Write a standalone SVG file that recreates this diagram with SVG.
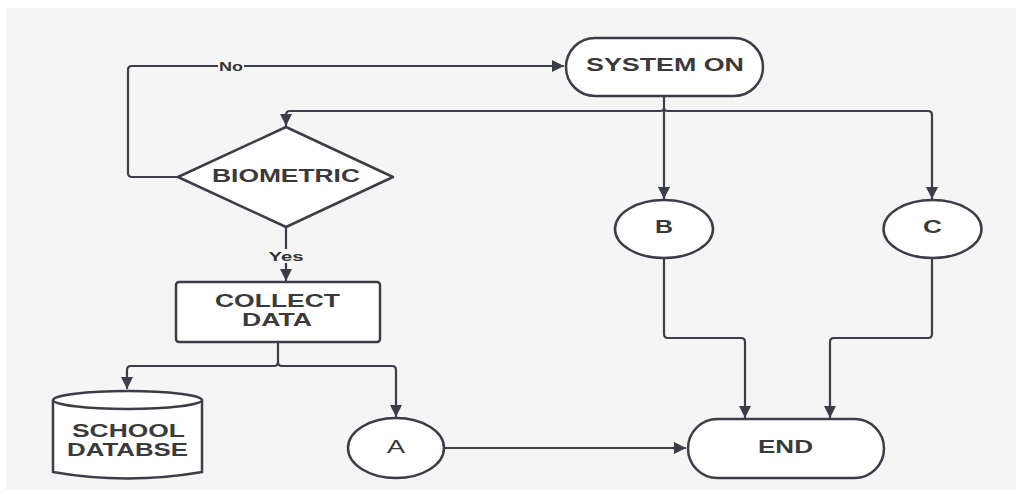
<svg xmlns="http://www.w3.org/2000/svg" width="1016" height="502" viewBox="0 0 1016 502">
  <defs>
    <marker id="arrow" viewBox="0 0 10 10" refX="10" refY="5" markerWidth="5.5" markerHeight="5.5" orient="auto" markerUnits="strokeWidth">
      <path d="M0,0 L10,5 L0,10 z" fill="#3b3e46"/>
    </marker>
    <style>
      .shape { fill: #ffffff; stroke: #3b3e46; stroke-width: 2.5; }
      .edge { fill: none; stroke: #3b3e46; stroke-width: 2.2; stroke-linejoin: round; }
      .label { font-family: "Liberation Sans", Arial, sans-serif; font-weight: bold; font-size: 18px; fill: #3a3a3a; text-anchor: middle; dominant-baseline: central; }
      .small { font-family: "Liberation Sans", Arial, sans-serif; font-weight: bold; font-size: 13px; fill: #333333; text-anchor: middle; dominant-baseline: central; }
    </style>
  </defs>

  <rect x="0" y="0" width="1016" height="502" fill="#ffffff"/>
  <rect x="6" y="8" width="1010" height="482" fill="#f5f5f5"/>

  <!-- connectors -->
  <g id="connectors">
    <!-- No branch: biometric back to system on -->
    <path class="edge" d="M178,177 H132 Q128,177 128,173 V70 Q128,66 132,66 H564" marker-end="url(#arrow)"/>
    <rect x="218" y="58" width="26" height="15" fill="#f5f5f5"/>
    <text class="small" x="231" y="66" textLength="24" lengthAdjust="spacingAndGlyphs">No</text>

    <!-- system on down to B -->
    <path class="edge" d="M664,96 V199" marker-end="url(#arrow)"/>
    <!-- system on to biometric (with hop over vertical) -->
    <path class="edge" d="M664,108 Q664,111 660,111 H290 Q286,111 286,115 V126" marker-end="url(#arrow)"/>
    <!-- system on to C -->
    <path class="edge" d="M664,108 Q664,111 668,111 H928 Q932,111 932,115 V199" marker-end="url(#arrow)"/>

    <!-- Yes branch -->
    <path class="edge" d="M286,228 V281" marker-end="url(#arrow)"/>
    <rect x="267" y="249" width="38" height="14" fill="#f5f5f5"/>
    <text class="small" x="286" y="256" textLength="35" lengthAdjust="spacingAndGlyphs">Yes</text>

    <!-- collect data to database and A -->
    <path class="edge" d="M278,342 V362 Q278,366 274,366 H131 Q127,366 127,370 V389" marker-end="url(#arrow)"/>
    <path class="edge" d="M278,362 Q278,366 282,366 H392 Q396,366 396,370 V417" marker-end="url(#arrow)"/>

    <!-- A to END -->
    <path class="edge" d="M444,448 H686" marker-end="url(#arrow)"/>

    <!-- B to END -->
    <path class="edge" d="M664,258 V334 Q664,338 668,338 H741 Q745,338 745,342 V418" marker-end="url(#arrow)"/>
    <!-- C to END -->
    <path class="edge" d="M932,258 V334 Q932,338 928,338 H834 Q830,338 830,342 V418" marker-end="url(#arrow)"/>
  </g>

  <g id="system-on">
    <rect class="shape" x="566" y="38" width="197" height="58" rx="29" ry="29"/>
    <text class="label" x="665" y="65" textLength="158" lengthAdjust="spacingAndGlyphs">SYSTEM ON</text>
  </g>

  <g id="biometric">
    <path class="shape" d="M286,127 L393,177 L286,227 L178,177 Z" stroke-linejoin="round"/>
    <text class="label" x="286" y="176" textLength="148" lengthAdjust="spacingAndGlyphs">BIOMETRIC</text>
  </g>

  <g id="collect-data">
    <rect class="shape" x="176" y="282" width="204" height="60" rx="3" ry="3"/>
    <text class="label" x="277.5" y="301" textLength="125" lengthAdjust="spacingAndGlyphs">COLLECT</text>
    <text class="label" x="277" y="320" textLength="70" lengthAdjust="spacingAndGlyphs">DATA</text>
  </g>

  <g id="school-database">
    <path class="shape" d="M53,400 V472 Q127,485 202,472 V400"/>
    <ellipse class="shape" cx="127.5" cy="400" rx="74.5" ry="9"/>
    <text class="label" x="128.5" y="431" textLength="113" lengthAdjust="spacingAndGlyphs">SCHOOL</text>
    <text class="label" x="127.5" y="450" textLength="121" lengthAdjust="spacingAndGlyphs">DATABSE</text>
  </g>

  <g id="node-a">
    <ellipse class="shape" cx="396" cy="448" rx="48" ry="30"/>
    <text class="label" x="396" y="447" style="font-weight:normal" textLength="18" lengthAdjust="spacingAndGlyphs">A</text>
  </g>

  <g id="node-b">
    <ellipse class="shape" cx="664" cy="229" rx="49" ry="29"/>
    <text class="label" x="664" y="227" textLength="18" lengthAdjust="spacingAndGlyphs">B</text>
  </g>

  <g id="node-c">
    <ellipse class="shape" cx="932.5" cy="229" rx="49" ry="29"/>
    <text class="label" x="932.5" y="227" textLength="19" lengthAdjust="spacingAndGlyphs">C</text>
  </g>

  <g id="end">
    <rect class="shape" x="688" y="419" width="196" height="59" rx="29.5" ry="29.5"/>
    <text class="label" x="785.5" y="447" textLength="55" lengthAdjust="spacingAndGlyphs">END</text>
  </g>
</svg>
